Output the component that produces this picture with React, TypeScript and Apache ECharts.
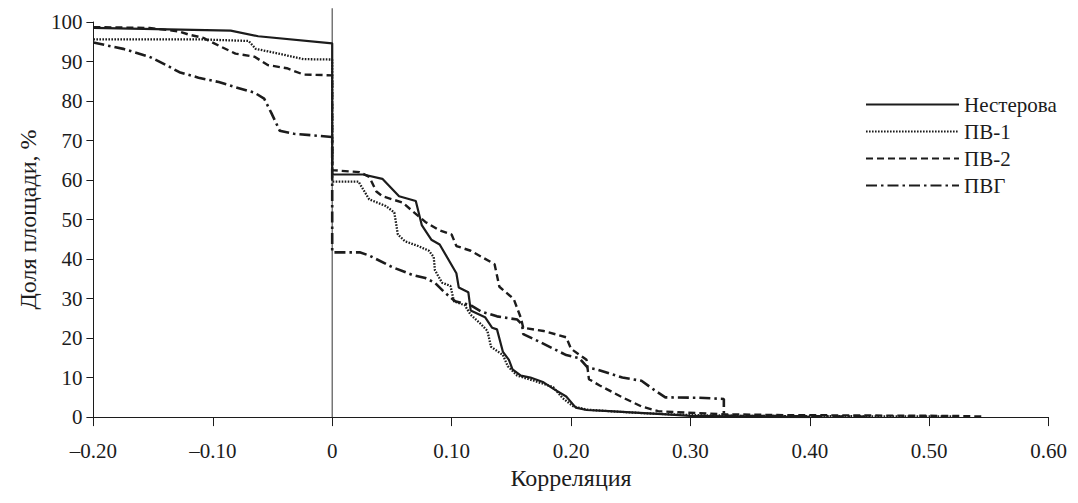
import React, { useEffect, useRef } from "react";
import * as echarts from "echarts";

const seriesNames = ["Нестерова", "ПВ-1", "ПВ-2", "ПВГ"];

const nestX = [-0.2, -0.085, -0.062, 0, 0, 0.026, 0.042, 0.056, 0.07, 0.075, 0.083, 0.09, 0.104, 0.106, 0.114, 0.116, 0.128, 0.134, 0.138, 0.143, 0.148, 0.151, 0.158, 0.166, 0.177, 0.185, 0.196, 0.204, 0.213, 0.232, 0.25, 0.28, 0.3, 0.35, 0.4];
const nestY = [98.5, 97.8, 96.4, 94.6, 61.4, 61.4, 60.3, 55.9, 54.7, 48.6, 44.9, 43.7, 36.4, 32.8, 31.6, 27.0, 25.3, 22.6, 22.2, 16.5, 14.5, 12.1, 10.5, 10.0, 8.8, 7.2, 5.2, 2.4, 1.8, 1.5, 1.2, 0.7, 0.3, 0.1, 0];

const pv1X = [-0.2, -0.11, -0.07, -0.064, -0.045, -0.024, 0, 0, 0.022, 0.031, 0.045, 0.052, 0.055, 0.061, 0.072, 0.081, 0.085, 0.086, 0.092, 0.099, 0.102, 0.111, 0.116, 0.125, 0.13, 0.133, 0.143, 0.147, 0.155, 0.169, 0.185, 0.193, 0.202, 0.213, 0.232, 0.26, 0.3, 0.35, 0.45, 0.522];
const pv1Y = [95.6, 95.6, 95.2, 93.2, 92.0, 90.6, 90.5, 59.6, 59.6, 55.1, 53.4, 51.8, 46.2, 44.5, 43.3, 42.1, 40.5, 37.2, 34.0, 33.2, 29.3, 28.3, 25.9, 23.4, 21.8, 17.8, 15.7, 12.9, 10.5, 9.2, 7.6, 4.8, 2.7, 1.9, 1.5, 1.0, 0.5, 0.3, 0.2, 0.2];

const pv2X = [-0.2, -0.153, -0.128, -0.12, -0.108, -0.095, -0.081, -0.065, -0.054, -0.038, -0.024, 0, 0, 0.023, 0.031, 0.037, 0.042, 0.059, 0.067, 0.078, 0.089, 0.1, 0.104, 0.116, 0.136, 0.14, 0.152, 0.158, 0.16, 0.177, 0.196, 0.2, 0.213, 0.215, 0.224, 0.243, 0.259, 0.273, 0.298, 0.33, 0.38, 0.45, 0.518, 0.545];
const pv2Y = [98.7, 98.5, 97.6, 96.8, 96.0, 94.0, 92.0, 91.2, 89.1, 88.3, 86.7, 86.5, 62.5, 62.0, 60.8, 57.1, 55.9, 54.3, 52.2, 49.4, 47.4, 46.2, 43.3, 42.1, 38.7, 33.0, 29.9, 25.1, 22.6, 21.8, 20.2, 17.3, 14.5, 9.6, 8.0, 5.0, 2.7, 1.5, 1.1, 0.7, 0.5, 0.4, 0.3, 0.15];

const pvgX = [-0.2, -0.175, -0.153, -0.139, -0.128, -0.112, -0.095, -0.081, -0.065, -0.057, -0.051, -0.044, -0.032, 0, 0, 0.023, 0.031, 0.05, 0.067, 0.078, 0.086, 0.094, 0.103, 0.116, 0.125, 0.138, 0.155, 0.159, 0.16, 0.174, 0.196, 0.207, 0.214, 0.221, 0.243, 0.259, 0.27, 0.279, 0.306, 0.328, 0.328, 0.4, 0.45];
const pvgY = [94.8, 93.2, 91.2, 89.1, 87.3, 85.9, 84.8, 83.5, 82.1, 80.6, 77.0, 72.5, 71.7, 70.9, 41.7, 41.7, 40.9, 38.0, 36.0, 35.2, 34.0, 31.6, 29.3, 28.3, 26.7, 25.5, 24.7, 23.4, 21.0, 19.0, 15.7, 14.9, 12.5, 12.1, 10.0, 9.2, 6.8, 5.0, 4.9, 4.6, 0.3, 0.2, 0.1];

const xMin = -0.2;
const xMax = 0.6;
const xStep = 0.1;
const yMin = 0;
const yMax = 100;
const yStep = 10;

const FONT = "'Liberation Serif', 'Times New Roman', serif";
const INK = "#1c1c1c";

function zip(xs: number[], ys: number[]) {
  return xs.map((x, i) => [x, ys[i]]);
}

function fmtX(v: number) {
  const r = Math.round(v * 100) / 100;
  if (Math.abs(r) < 1e-9) return "0";
  return (r < 0 ? "\u2013" : "") + Math.abs(r).toFixed(2);
}

export default function App() {
  const ref = useRef<HTMLDivElement>(null);
  useEffect(() => {
    if (!ref.current) return;
    const chart = echarts.init(ref.current, undefined, { renderer: "svg" });
    const styles = [
      { type: "solid" as any, width: 2.2 },
      { type: [1.6, 1.4] as any, width: 2.3 },
      { type: [7, 4] as any, width: 2.4 },
      { type: [11, 4, 2.5, 4] as any, width: 2.6 },
    ];
    const datas = [zip(nestX, nestY), zip(pv1X, pv1Y), zip(pv2X, pv2Y), zip(pvgX, pvgY)];
    chart.setOption({
      animation: false,
      backgroundColor: "#ffffff",
      grid: { left: 77, right: 17, top: 14, bottom: 62, containLabel: false },
      legend: {
        orient: "vertical",
        left: 852,
        top: 81,
        itemWidth: 93,
        itemHeight: 14,
        itemGap: 6,
        itemStyle: { opacity: 0 },
        textStyle: { fontFamily: FONT, fontSize: 21, color: INK },
        data: seriesNames,
      },
      xAxis: {
        type: "value",
        min: xMin,
        max: xMax,
        interval: xStep,
        name: "Корреляция",
        nameLocation: "middle",
        nameGap: 44,
        nameTextStyle: { fontFamily: FONT, fontSize: 24, color: INK },
        axisLine: { onZero: false, lineStyle: { color: INK, width: 1 } },
        axisTick: { show: true, length: 9, lineStyle: { color: INK } },
        axisLabel: { fontFamily: FONT, fontSize: 21, color: INK, margin: 23, formatter: fmtX },
        splitLine: { show: false },
      },
      yAxis: {
        type: "value",
        min: yMin,
        max: yMax,
        interval: yStep,
        name: "Доля площади, %",
        nameLocation: "middle",
        nameGap: 52,
        nameTextStyle: { fontFamily: FONT, fontSize: 24, color: INK },
        axisLine: { show: true, onZero: false, lineStyle: { color: INK, width: 1 } },
        axisTick: { show: true, length: 7, lineStyle: { color: INK } },
        axisLabel: { fontFamily: FONT, fontSize: 21, color: INK, margin: 11 },
        splitLine: { show: false },
      },
      series: seriesNames.map((name, i) => ({
        name,
        type: "line",
        data: datas[i],
        showSymbol: false,
        symbol: "none",
        lineStyle: { color: INK, ...styles[i] },
        itemStyle: { color: INK },
        z: 3,
      })),
    });
    const p0 = chart.convertToPixel({ gridIndex: 0 }, [0, yMin]) as number[];
    const p1 = chart.convertToPixel({ gridIndex: 0 }, [0, yMax * 1.035]) as number[];
    chart.setOption({
      graphic: [
        {
          type: "line",
          shape: { x1: p0[0], y1: p0[1], x2: p1[0], y2: p1[1] },
          style: { stroke: "#555", lineWidth: 1.2 },
          z: 1,
        },
      ],
    });
    return () => chart.dispose();
  }, []);
  return <div ref={ref} style={{ width: 1062, height: 487 }} />;
}
